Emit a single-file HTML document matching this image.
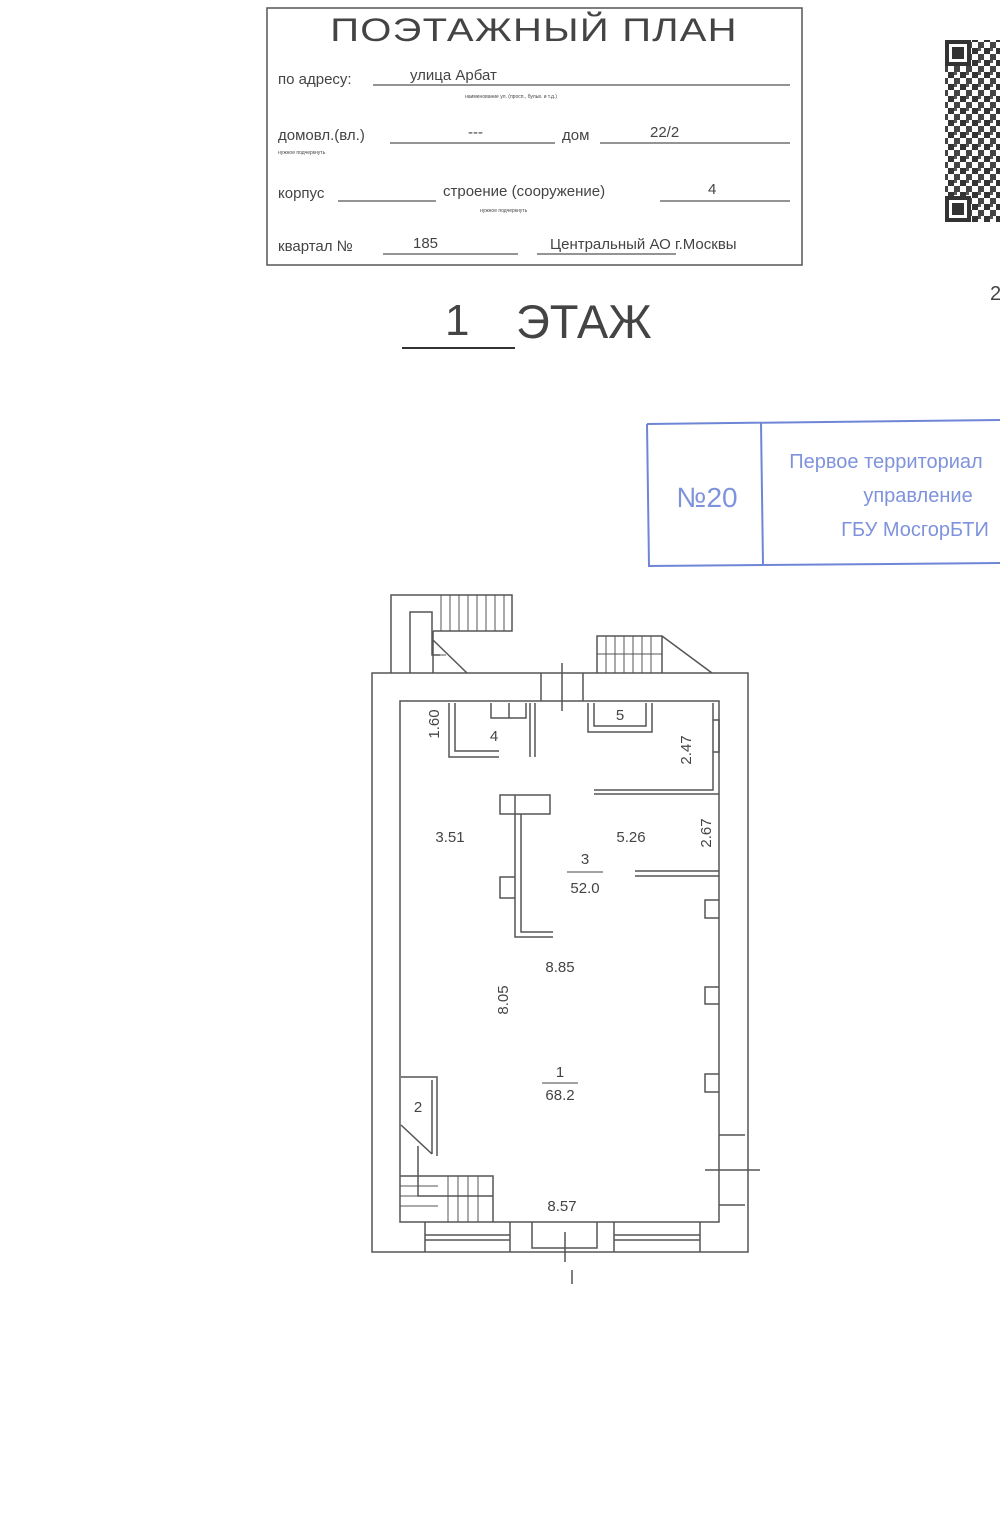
<!DOCTYPE html>
<html><head><meta charset="utf-8"><style>
html,body{margin:0;padding:0;background:#fff;width:1000px;height:1534px;overflow:hidden}
svg{display:block}
text{font-family:"Liberation Sans",sans-serif;fill:#444}
</style></head><body>
<svg width="1000" height="1534" viewBox="0 0 1000 1534">
<defs><pattern id="qr" width="12" height="12" patternUnits="userSpaceOnUse"><rect width="12" height="12" fill="#fff"/><rect x="0" y="0" width="6" height="6" fill="#333"/><rect x="6" y="6" width="6" height="6" fill="#444"/><rect x="6" y="0" width="3" height="3" fill="#555"/></pattern></defs>
<g stroke="#555" fill="none" stroke-width="1.5">
<rect x="267" y="8" width="535" height="257"/>
</g>
<text x="534" y="41" font-size="32" text-anchor="middle" letter-spacing="1" fill="#444" transform="translate(534 0) scale(1.25 1) translate(-534 0)">ПОЭТАЖНЫЙ ПЛАН</text>
<g font-size="15" fill="#555">
<text x="278" y="84">по адресу:</text>
<text x="410" y="80">улица Арбат</text>
<text x="278" y="140">домовл.(вл.)</text>
<text x="468" y="137">---</text>
<text x="562" y="140">дом</text>
<text x="650" y="137">22/2</text>
<text x="278" y="198">корпус</text>
<text x="443" y="196">строение (сооружение)</text>
<text x="708" y="194">4</text>
<text x="278" y="251">квартал №</text>
<text x="413" y="248">185</text>
<text x="550" y="249">Центральный АО г.Москвы</text>
</g>
<g stroke="#555" stroke-width="1.2">
<line x1="373" y1="85" x2="790" y2="85"/>
<line x1="390" y1="143" x2="555" y2="143"/>
<line x1="600" y1="143" x2="790" y2="143"/>
<line x1="338" y1="201" x2="436" y2="201"/>
<line x1="660" y1="201" x2="790" y2="201"/>
<line x1="383" y1="254" x2="518" y2="254"/>
<line x1="537" y1="254" x2="676" y2="254"/>
</g>
<g font-size="5" fill="#888"><text x="465" y="98">наименование ул. (просп., бульв. и т.д.)</text><text x="278" y="154">нужное подчеркнуть</text><text x="480" y="212">нужное подчеркнуть</text></g>
<text x="445" y="335" font-size="44" fill="#333">1</text>
<line x1="402" y1="348" x2="515" y2="348" stroke="#333" stroke-width="2"/>
<text x="516" y="338" font-size="47" fill="#333">ЭТАЖ</text>
<rect x="945" y="40" width="55" height="182" fill="url(#qr)"/>
<g fill="#333">
<rect x="945" y="40" width="26" height="26"/><rect x="949" y="44" width="18" height="18" fill="#fff"/><rect x="952" y="47" width="12" height="12"/>
<rect x="945" y="196" width="26" height="26"/><rect x="949" y="200" width="18" height="18" fill="#fff"/><rect x="952" y="203" width="12" height="12"/>
</g>
<text x="990" y="300" font-size="20" fill="#444">2</text>
<g stroke="#6f86d6" fill="none" stroke-width="2">
<path d="M647 424 L1000 420 M647 424 L649 566 L1000 563"/>
<line x1="761" y1="423" x2="763" y2="565"/>
</g>
<g font-size="20" text-anchor="middle"><text x="707" y="507" font-size="28" style="fill:#7f93dc">№20</text>
<text x="886" y="468" style="fill:#7f93dc">Первое территориал</text><text x="918" y="502" style="fill:#7f93dc">управление</text><text x="915" y="536" style="fill:#7f93dc">ГБУ МосгорБТИ</text></g>
<g stroke="#555" fill="none" stroke-width="1.5">
<rect x="372" y="673" width="376" height="579"/>
<path d="M400 1222 V701 H719 V1222 Z"/>
<path d="M391 673 V595 H512 V631 H433 M410 673 V612 H432 V655 H440 M433 631 V673 M433 640 L467 673"/>
<g stroke-width="1"><line x1="441" y1="595" x2="441" y2="631"/><line x1="450" y1="595" x2="450" y2="631"/><line x1="459" y1="595" x2="459" y2="631"/><line x1="468" y1="595" x2="468" y2="631"/><line x1="477" y1="595" x2="477" y2="631"/><line x1="486" y1="595" x2="486" y2="631"/><line x1="495" y1="595" x2="495" y2="631"/><line x1="504" y1="595" x2="504" y2="631"/><line x1="433" y1="655" x2="446" y2="655"/></g>
<path d="M597 673 V636 H662 L712 673 M662 636 V673"/>
<g stroke-width="1"><line x1="606" y1="636" x2="606" y2="673"/><line x1="615" y1="636" x2="615" y2="673"/><line x1="624" y1="636" x2="624" y2="673"/><line x1="633" y1="636" x2="633" y2="673"/><line x1="642" y1="636" x2="642" y2="673"/><line x1="651" y1="636" x2="651" y2="673"/><line x1="597" y1="654" x2="662" y2="654"/></g>
<path d="M541 673 V701 M583 673 V701 M562 663 V711"/>
<path d="M449 703 V757 H499 M455 703 V751 H499 M530 703 V757 M535 703 V757 M491 703 V718 H526 V703 M509 703 V718"/>
<path d="M588 703 V732 H652 V703 M594 703 V726 H646 V703"/>
<path d="M594 790 H713 V703 M594 794 H719 M713 720 H719 V752 H713 M635 871 H719 M635 876 H719"/>
<path d="M719 900 H705 V918 H719 M719 987 H705 V1004 H719 M719 1074 H705 V1092 H719 M719 1135 H745 M719 1205 H745 M705 1170 H760"/>
<path d="M500 795 H550 V814 H500 Z M515 795 V937 H553 M521 814 V932 H553 M500 877 H515 V898 H500 Z"/>
<path d="M401 1077 H437 V1156 M432 1080 V1154 M401 1125 L432 1154 M418 1146 V1196 H493 M438 1176 H493 V1222 M400 1176 H438"/>
<g stroke-width="1"><line x1="448" y1="1176" x2="448" y2="1222"/><line x1="458" y1="1176" x2="458" y2="1222"/><line x1="468" y1="1176" x2="468" y2="1222"/><line x1="478" y1="1176" x2="478" y2="1222"/><line x1="400" y1="1186" x2="438" y2="1186"/><line x1="400" y1="1196" x2="438" y2="1196"/><line x1="400" y1="1206" x2="438" y2="1206"/></g>
<path d="M425 1222 V1252 M510 1222 V1252 M425 1235 H510 M425 1240 H510 M532 1222 V1248 H597 V1222 M614 1222 V1252 M700 1222 V1252 M614 1235 H700 M614 1240 H700 M565 1232 V1262 M572 1270 V1284"/>
</g>
<g font-size="15" fill="#444" text-anchor="middle">
<text x="620" y="720">5</text><text x="494" y="741">4</text>
<text x="450" y="842">3.51</text><text x="631" y="842">5.26</text>
<text x="585" y="864">3</text><line x1="567" y1="872" x2="603" y2="872" stroke="#444"/><text x="585" y="893">52.0</text>
<text x="560" y="972">8.85</text>
<text x="560" y="1077">1</text><line x1="542" y1="1083" x2="578" y2="1083" stroke="#444"/><text x="560" y="1100">68.2</text>
<text x="418" y="1112">2</text><text x="562" y="1211">8.57</text>
<text transform="translate(439 724) rotate(-90)">1.60</text>
<text transform="translate(691 750) rotate(-90)">2.47</text>
<text transform="translate(711 833) rotate(-90)">2.67</text>
<text transform="translate(508 1000) rotate(-90)">8.05</text>
</g>
</svg>
</body></html>
